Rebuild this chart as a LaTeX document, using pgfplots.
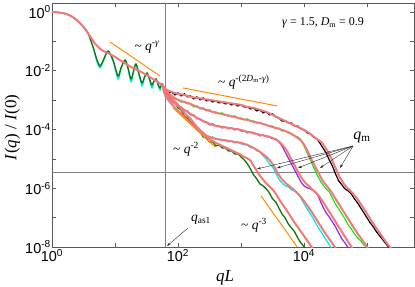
\documentclass[border=0pt]{standalone}
\usepackage{pgfplots}
\pgfplotsset{compat=1.18}
\usepackage{fontspec}
\setmainfont{Liberation Serif}
\setsansfont{Liberation Sans}
\usetikzlibrary{arrows.meta}
\definecolor{salmon}{RGB}{240,122,122}
\definecolor{dkgreen}{RGB}{10,120,10}
\definecolor{mycyan}{RGB}{0,230,235}
\definecolor{mypurple}{RGB}{140,40,230}
\definecolor{mygreen}{RGB}{20,235,20}
\definecolor{myorange}{RGB}{255,140,0}
\definecolor{axgray}{RGB}{90,90,90}
\begin{document}
\begin{tikzpicture}
\useasboundingbox (-52bp,-40bp) rectangle (363bp,247bp);
\begin{axis}[
  at={(0,0)}, anchor=south west,
  scale only axis, width=362bp, height=244bp,
  xmode=log, ymode=log,
  xmin=1, xmax=5.57e5, ymin=1e-8, ymax=2.02,
  xtick={1,100,10000},
  xticklabels={10\textsuperscript{0},10\textsuperscript{2},10\textsuperscript{4}},
  minor xtick={10,1000,100000},
  ytick={1,1e-2,1e-4,1e-6,1e-8},
  yticklabels={10\textsuperscript{0},10\textsuperscript{-2},10\textsuperscript{-4},10\textsuperscript{-6},10\textsuperscript{-8}},
  minor ytick={1e-1,1e-3,1e-5,1e-7},
  tick align=inside, major tick length=4bp, minor tick length=4bp,
  tick style={axgray, line width=0.6bp},
  axis line style={axgray, line width=0.8bp},
  ticklabel style={font=\sffamily\fontsize{14.5}{14.5}\selectfont},
  yticklabel style={inner sep=1bp},
  xticklabel style={inner sep=2.5bp},
  xlabel={\textit{qL}}, ylabel={\textit{I}(\textit{q}) / \textit{I}(0)},
  label style={font=\fontsize{17}{17}\selectfont},
  xlabel style={at={(axis description cs:0.478,-0.127)}, anchor=center},
  ylabel style={at={(axis description cs:-0.11,0.49)}, anchor=center},
  clip=true,
]
% reference lines
\addplot[gray, line width=0.6bp] coordinates {(62.2,1e-8) (62.2,2.02)};
\addplot[gray, line width=0.6bp] coordinates {(1,3.61e-6) (5.57e5,3.61e-6)};
% black
\addplot[black, line width=1.2bp] coordinates {
(55.7,0.00356)(63.1,2.22e-3)(70.8,1.76e-3)(79.4,1.90e-3)(89.1,1.50e-3)(100,1.76e-3)(112,1.39e-3)(126,1.63e-3)(141,1.29e-3)(158,1.39e-3)(178,1.10e-3)(200,1.29e-3)(224,1.02e-3)(251,1.19e-3)(282,9.40e-4)(316,1.02e-3)(355,8.69e-4)(398,9.40e-4)(447,8.04e-4)(501,8.69e-4)(562,7.43e-4)(631,8.04e-4)(708,6.87e-4)(794,7.43e-4)(891,6.35e-4)(1000,6.87e-4)(1122,5.87e-4)(1259,5.87e-4)(1413,5.02e-4)(1585,5.43e-4)(1778,4.30e-4)(1995,4.65e-4)(2239,3.67e-4)(2512,3.97e-4)(2818,3.14e-4)(3162,3.40e-4)(3548,2.69e-4)(3981,2.48e-4)(4467,1.96e-4)(5012,1.96e-4)(5623,1.67e-4)(6310,1.67e-4)(7079,1.32e-4)(7943,1.32e-4)(8913,1.05e-4)(10000,9.68e-5)(11220,7.66e-5)(12590,7.08e-5)(14130,5.60e-5)(15850,4.79e-5)(17780,3.50e-5)(19950,2.37e-5)(22390,1.60e-5)(25120,9.25e-6)(28180,5.78e-6)(31620,3.09e-6)(35480,1.79e-6)(39810,1.31e-6)(44670,9.55e-7)(50120,8.17e-7)(56230,6.46e-7)(63100,4.36e-7)(70790,3.18e-7)(79430,2.15e-7)(89130,1.46e-7)(100000,9.84e-8)(112200,6.65e-8)(125900,4.86e-8)(141300,3.29e-8)(158500,2.40e-8)(177800,1.76e-8)(199500,1.29e-8)(223900,9.40e-9)};
% green
\addplot[mygreen, line width=1.2bp] coordinates {
(55.7,0.00356)(63.1,1.90e-3)(70.8,1.50e-3)(79.4,1.29e-3)(89.1,1.10e-3)(100,1.02e-3)(112,8.69e-4)(126,8.69e-4)(141,7.43e-4)(158,7.43e-4)(178,5.87e-4)(200,6.35e-4)(224,5.02e-4)(251,5.43e-4)(282,4.30e-4)(316,4.65e-4)(355,3.97e-4)(398,3.97e-4)(447,3.40e-4)(501,3.67e-4)(562,3.14e-4)(631,3.14e-4)(708,2.69e-4)(794,2.90e-4)(891,2.48e-4)(1000,2.48e-4)(1122,2.12e-4)(1259,2.30e-4)(1413,1.96e-4)(1585,1.96e-4)(1778,1.67e-4)(1995,1.67e-4)(2239,1.55e-4)(2512,1.43e-4)(2818,1.32e-4)(3162,1.32e-4)(3548,1.05e-4)(3981,1.13e-4)(4467,8.95e-5)(5012,8.95e-5)(5623,7.66e-5)(6310,7.08e-5)(7079,6.05e-5)(7943,5.60e-5)(8913,4.43e-5)(10000,2.77e-5)(11220,1.60e-5)(12590,9.25e-6)(14130,5.35e-6)(15850,3.09e-6)(17780,1.93e-6)(19950,1.31e-6)(22390,9.55e-7)(25120,7.55e-7)(28180,4.71e-7)(31620,2.94e-7)(35480,1.99e-7)(39810,1.35e-7)(44670,9.10e-8)(50120,5.69e-8)(56230,4.16e-8)(63100,2.81e-8)(70790,2.06e-8)(79430,1.63e-8)(89130,1.19e-8)(100000,9.40e-9)};
% purple
\addplot[mypurple, line width=1.2bp] coordinates {
(55.7,0.00356)(63.1,1.50e-3)(70.8,1.19e-3)(79.4,8.69e-4)(89.1,8.04e-4)(100,5.87e-4)(112,5.87e-4)(126,4.30e-4)(141,4.30e-4)(158,3.14e-4)(178,3.14e-4)(200,2.30e-4)(224,2.30e-4)(251,1.82e-4)(282,1.82e-4)(316,1.43e-4)(355,1.55e-4)(398,1.32e-4)(447,1.32e-4)(501,1.13e-4)(562,1.22e-4)(631,1.05e-4)(708,1.13e-4)(794,9.68e-5)(891,1.05e-4)(1000,8.95e-5)(1122,8.95e-5)(1259,7.66e-5)(1413,8.28e-5)(1585,7.08e-5)(1778,7.08e-5)(1995,6.05e-5)(2239,6.55e-5)(2512,5.60e-5)(2818,5.60e-5)(3162,4.79e-5)(3548,4.79e-5)(3981,3.78e-5)(4467,2.77e-5)(5012,1.73e-5)(5623,1.08e-5)(6310,6.76e-6)(7079,4.23e-6)(7943,2.64e-6)(8913,1.65e-6)(10000,1.21e-6)(11220,1.03e-6)(12590,9.55e-7)(14130,8.17e-7)(15850,6.98e-7)(17780,4.03e-7)(19950,2.33e-7)(22390,1.46e-7)(25120,1.06e-7)(28180,7.19e-8)(31620,4.86e-8)(35480,3.04e-8)(39810,1.90e-8)(44670,1.39e-8)(50120,9.40e-9)};
% cyan
\addplot[mycyan, line width=1.2bp, smooth, tension=0.5] coordinates {
(1,1)(1.259,0.962)(1.585,0.889)(1.995,0.731)(2.512,0.514)(3.162,0.309)(3.72,0.193)(4.48,0.0645)(5.18,0.0200)(5.78,0.01245)(6.45,0.0200)(7.74,0.0450)(9.29,0.0220)(11.16,0.00526)(12.45,0.0115)(14.42,0.0225)(16.08,0.0115)(17.95,0.00416)(19.7,0.0092)(21.53,0.0165)(24.04,0.0072)(26.83,0.00304)(29.4,0.0058)(32.2,0.0080)(35.3,0.0048)(38.6,0.0026)(41.6,0.0042)(44.8,0.0050)(48.2,0.0032)(51.8,0.00222)(55.7,0.0033)
(63.1,1.29e-3)(70.8,1.02e-3)(79.4,6.87e-4)(89.1,5.87e-4)(100,4.30e-4)(112,3.67e-4)(126,2.69e-4)(141,2.30e-4)(158,1.67e-4)(178,1.55e-4)(200,1.05e-4)(224,8.95e-5)(251,6.55e-5)(282,6.05e-5)(316,5.18e-5)(355,5.60e-5)(398,4.79e-5)(447,4.79e-5)(501,4.09e-5)(562,4.43e-5)(631,3.78e-5)(708,4.09e-5)(794,3.50e-5)(891,3.78e-5)(1000,3.24e-5)(1122,2.99e-5)(1259,2.99e-5)(1413,2.37e-5)(1585,2.37e-5)(1778,1.87e-5)(1995,1.73e-5)(2239,1.26e-5)(2512,1.00e-5)(2818,6.76e-6)(3162,5.35e-6)(3548,3.34e-6)(3981,2.09e-6)(4467,1.53e-6)(5012,1.21e-6)(5623,1.12e-6)(6310,8.83e-7)(7079,8.17e-7)(7943,6.46e-7)(8913,4.71e-7)(10000,2.94e-7)(11220,1.99e-7)(12590,1.35e-7)(14130,9.10e-8)(15850,5.69e-8)(17780,3.85e-8)(19950,2.60e-8)(22390,1.76e-8)(25120,1.19e-8)(28180,8.04e-9)};
% dark green
\addplot[dkgreen, line width=1.3bp, smooth, tension=0.5] coordinates {
(1,1)(1.259,0.962)(1.585,0.889)(1.995,0.731)(2.512,0.514)(3.162,0.309)(3.72,0.193)(4.48,0.0645)(5.18,0.0233)(5.78,0.01456)(6.45,0.0215)(7.74,0.0471)(9.29,0.0233)(11.16,0.00665)(12.45,0.01245)(14.42,0.0233)(16.08,0.01245)(17.95,0.00526)(19.7,0.00984)(21.53,0.01703)(24.04,0.00778)(26.83,0.00385)(29.4,0.00615)(32.2,0.00841)(35.3,0.00526)(38.6,0.00329)(41.6,0.0045)(44.8,0.00526)(48.2,0.00356)(51.8,0.0026)(55.7,0.00356)(59.9,0.0026)
(63.1,1.76e-3)(70.8,1.50e-3)(79.4,9.40e-4)(89.1,8.69e-4)(100,5.43e-4)(112,4.65e-4)(126,2.90e-4)(141,2.48e-4)(158,1.82e-4)(178,1.55e-4)(200,9.68e-5)(224,8.28e-5)(251,5.60e-5)(282,5.18e-5)(316,3.78e-5)(355,3.78e-5)(398,2.77e-5)(447,2.99e-5)(501,2.37e-5)(562,2.37e-5)(631,1.87e-5)(708,1.87e-5)(794,1.48e-5)(891,1.48e-5)(1000,1.17e-5)(1122,9.25e-6)(1259,6.76e-6)(1413,4.57e-6)(1585,2.86e-6)(1778,2.09e-6)(1995,1.41e-6)(2239,1.21e-6)(2512,9.55e-7)(2818,6.98e-7)(3162,4.36e-7)(3548,3.44e-7)(3981,2.15e-7)(4467,1.35e-7)(5012,9.84e-8)(5623,6.15e-8)(6310,4.50e-8)(7079,3.29e-8)(7943,2.06e-8)(8913,1.39e-8)(10000,1.02e-8)(11220,7.0e-9)};
% salmon smooth curves
\addplot[salmon, line width=2bp, smooth] coordinates {
(1,1)(1.259,0.962)(1.585,0.889)(1.995,0.731)(2.512,0.514)(3.162,0.309)(3.981,0.153)(5.012,0.0755)(6.31,0.049)(7.943,0.0389)(10,0.0295)(12.59,0.0215)(15.85,0.0157)(19.95,0.01197)(25.12,0.00946)(31.62,0.00719)(39.81,0.00526)(50.12,0.00385)(56.23,0.00329)};
\addplot[salmon, line width=2bp, smooth] coordinates {
(56.23,0.00329)(63.1,2.22e-3)(79.4,1.19e-3)(100,6.87e-4)(126,3.67e-4)(158,2.30e-4)(200,1.22e-4)(251,7.66e-5)(316,4.79e-5)(398,3.50e-5)(501,2.77e-5)(631,2.19e-5)(794,1.73e-5)(1000,1.37e-5)(1122,1.17e-5)(1380,9.25e-6)(1550,6.25e-6)(1740,4.23e-6)(1950,2.86e-6)(2190,2.09e-6)(2460,1.53e-6)(2760,1.21e-6)(3100,9.55e-7)(3480,6.98e-7)(4380,3.18e-7)(5510,1.57e-7)(6940,7.19e-8)(8740,3.56e-8)(11000,1.76e-8)(13850,8.7e-9)};
\addplot[salmon, line width=2bp, smooth] coordinates {
(56.23,0.00329)(63.1,1.39e-3)(79.4,7.43e-4)(100,4.30e-4)(126,2.69e-4)(158,1.67e-4)(200,1.05e-4)(251,7.08e-5)(316,5.60e-5)(398,4.79e-5)(501,4.43e-5)(631,4.09e-5)(794,3.78e-5)(1000,3.50e-5)(1259,2.99e-5)(1585,2.37e-5)(1995,1.73e-5)(2640,1.08e-5)(3320,5.78e-6)(3720,3.61e-6)(4180,2.44e-6)(4690,1.79e-6)(5260,1.41e-6)(6630,9.55e-7)(8340,5.97e-7)(10500,3.18e-7)(13220,1.57e-7)(16640,7.19e-8)(20950,3.29e-8)(26380,1.63e-8)(33200,8.04e-9)};
\addplot[salmon, line width=2bp, smooth] coordinates {
(56.23,0.00329)(63.1,1.63e-3)(79.4,9.40e-4)(100,6.35e-4)(126,4.65e-4)(158,3.40e-4)(200,2.48e-4)(251,1.96e-4)(316,1.55e-4)(398,1.32e-4)(501,1.22e-4)(631,1.13e-4)(794,1.05e-4)(1000,9.68e-5)(1259,8.28e-5)(1585,7.66e-5)(1995,6.55e-5)(2512,6.05e-5)(3162,5.18e-5)(4080,3.78e-5)(5260,2.02e-5)(5900,1.26e-5)(6630,7.91e-6)(7430,4.94e-6)(8340,3.09e-6)(9360,2.09e-6)(10500,1.53e-6)(13220,9.55e-7)(16640,5.97e-7)(20950,2.94e-7)(26380,1.35e-7)(33200,6.15e-8)(41800,2.81e-8)(52630,1.29e-8)(59000,8.7e-9)};
\addplot[salmon, line width=2bp, smooth] coordinates {
(56.23,0.00329)(63.1,2.06e-3)(79.4,1.39e-3)(100,1.02e-3)(126,8.69e-4)(158,7.43e-4)(200,5.87e-4)(251,5.02e-4)(316,4.30e-4)(398,3.67e-4)(501,3.40e-4)(631,2.90e-4)(794,2.69e-4)(1000,2.30e-4)(1259,2.12e-4)(1585,1.82e-4)(1995,1.67e-4)(2512,1.43e-4)(3162,1.22e-4)(3981,1.05e-4)(5012,8.95e-5)(6310,7.08e-5)(7943,5.18e-5)(9360,3.78e-5)(10500,2.56e-5)(11780,1.60e-5)(13220,9.25e-6)(14840,5.78e-6)(16640,3.61e-6)(18670,2.26e-6)(20950,1.53e-6)(26380,8.17e-7)(33200,3.72e-7)(41800,1.70e-7)(52630,7.78e-8)(66260,3.56e-8)(83400,1.76e-8)(105000,8.7e-9)};
\addplot[salmon, line width=2bp, smooth] coordinates {
(56.23,0.00329)(63.1,2.40e-3)(79.4,1.90e-3)(100,1.63e-3)(126,1.50e-3)(158,1.29e-3)(200,1.19e-3)(251,1.10e-3)(316,1.02e-3)(398,9.40e-4)(501,8.69e-4)(631,8.04e-4)(794,7.43e-4)(1000,6.87e-4)(1259,5.87e-4)(1585,5.43e-4)(1995,4.65e-4)(2512,3.97e-4)(3162,3.14e-4)(3981,2.48e-4)(5012,1.96e-4)(6310,1.55e-4)(7943,1.22e-4)(10000,9.68e-5)(12590,7.08e-5)(15850,4.79e-5)(18670,3.78e-5)(20950,2.77e-5)(23510,1.87e-5)(26380,1.17e-5)(29590,6.76e-6)(33200,3.91e-6)(37250,2.26e-6)(41800,1.53e-6)(46900,1.12e-6)(52630,8.83e-7)(66260,5.09e-7)(83400,2.52e-7)(105000,1.15e-7)(132200,5.26e-8)(166400,2.60e-8)(209500,1.29e-8)(263800,7e-9)};
% orange guide lines
\addplot[myorange, line width=1bp] coordinates {(8.34,9.55e-2) (51.8,6.65e-3)};
\addplot[myorange, line width=1bp] coordinates {(120,2.60e-3) (3724,6.35e-4)};
\addplot[myorange, line width=1bp] coordinates {(83.4,5.43e-4) (386,2.56e-5)};
\addplot[myorange, line width=1bp] coordinates {(2075,5.51e-7) (7745,1.02e-8)};
% annotations
\node[font=\fontsize{13.5}{13.5}\selectfont] at (rel axis cs:0.2625,0.8197) {\textasciitilde{} \textit{q}\textsuperscript{-\textit{γ}}};
\node[font=\fontsize{13.5}{13.5}\selectfont] at (rel axis cs:0.5300,0.6762) {\textasciitilde{} \textit{q}\textsuperscript{-(2\textit{D}\textsubscript{m}-\textit{γ})}};
\node[font=\fontsize{13.5}{13.5}\selectfont] at (rel axis cs:0.3702,0.4016) {\textasciitilde{} \textit{q}\textsuperscript{-2}};
\node[font=\fontsize{13.5}{13.5}\selectfont] at (rel axis cs:0.5580,0.0902) {\textasciitilde{} \textit{q}\textsuperscript{-3}};
\node[font=\fontsize{16}{16}\selectfont] at (rel axis cs:0.8564,0.4508) {\textit{q}\textsubscript{m}};
\node[font=\fontsize{13.5}{13.5}\selectfont] at (rel axis cs:0.4116,0.1107) {\textit{q}\textsubscript{as1}};
\node[font=\fontsize{12}{12}\selectfont] at (rel axis cs:0.7486,0.918) {\textit{γ} = 1.5, \textit{D}\textsubscript{m} = 0.9};
\draw[-{Stealth[length=4bp,width=2.5bp]}, line width=0.4bp, black!85] (rel axis cs:0.8315,0.4139) -- (rel axis cs:0.5663,0.3197);
\draw[-{Stealth[length=4bp,width=2.5bp]}, line width=0.4bp, black!85] (rel axis cs:0.8315,0.4139) -- (rel axis cs:0.6215,0.3238);
\draw[-{Stealth[length=4bp,width=2.5bp]}, line width=0.4bp, black!85] (rel axis cs:0.8315,0.4139) -- (rel axis cs:0.6796,0.3238);
\draw[-{Stealth[length=4bp,width=2.5bp]}, line width=0.4bp, black!85] (rel axis cs:0.8315,0.4139) -- (rel axis cs:0.7403,0.3238);
\draw[-{Stealth[length=4bp,width=2.5bp]}, line width=0.4bp, black!85] (rel axis cs:0.8315,0.4139) -- (rel axis cs:0.7956,0.3238);
\draw[-{Stealth[length=4bp,width=2.5bp]}, line width=0.4bp, black!85] (rel axis cs:0.3757,0.0779) -- (rel axis cs:0.3177,0.004);
\end{axis}
\end{tikzpicture}
\end{document}
